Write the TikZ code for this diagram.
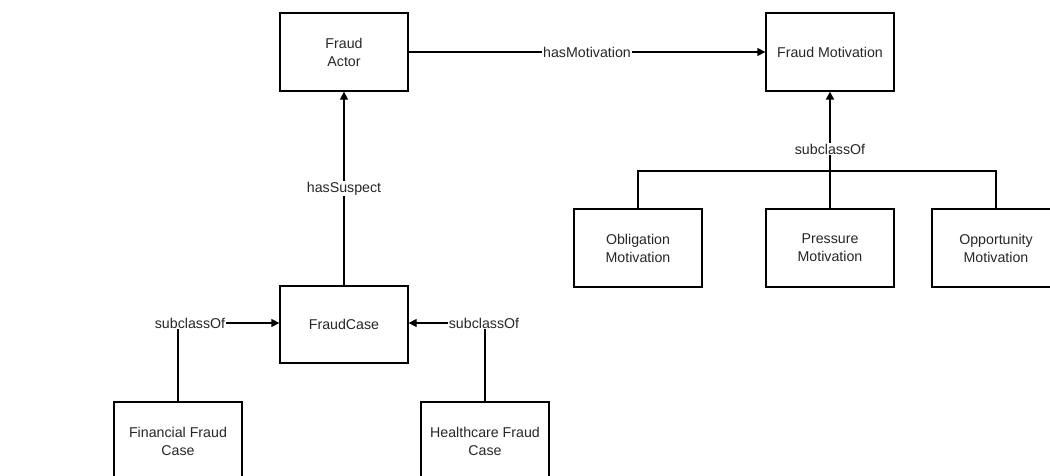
\documentclass[tikz,border=0pt]{standalone}
\usepackage{fontspec}
\setmainfont{Liberation Sans}
\usetikzlibrary{arrows.meta}
\begin{document}
\begin{tikzpicture}[x=1pt,y=-1pt,
  font=\fontsize{14.2}{18}\selectfont,
  box/.style={draw, line width=1.3pt, minimum width=128pt, minimum height=78pt, align=center, inner sep=0pt, text=black!85},
  conn/.style={line width=1.3pt},
  arr/.style={line width=1.3pt, -{Triangle[length=8pt,width=8pt]}},
  lbl/.style={fill=white, inner sep=1pt, text=black!85}
]
\useasboundingbox (0,0) rectangle (1050,475);
\clip (0,0) rectangle (1050,475);
\node[box] (actor) at (344,52) {Fraud\\Actor};
\node[box] (motiv) at (830,52) {Fraud Motivation};
\node[box, minimum height=77pt] (case) at (344,324.5) {FraudCase};
\node[box] (oblig) at (638,248) {Obligation\\Motivation};
\node[box] (press) at (830,248) {Pressure\\Motivation};
\node[box] (oppor) at (996,248) {Opportunity\\Motivation};
\node[box] (fin) at (178,441) {Financial Fraud\\Case};
\node[box] (health) at (485,441) {Healthcare Fraud\\Case};

\draw[arr] (actor.east) -- node[lbl, pos=0.5] {hasMotivation} (motiv.west);
\draw[arr] (case.north) -- node[lbl, pos=0.5] {hasSuspect} (actor.south);

\coordinate (bar) at (830,171);
\draw[conn] (oblig.north) |- (bar) -| (oppor.north);
\draw[conn] (press.north) -- (bar);
\draw[line width=2pt, -{Triangle[length=8pt,width=8pt]}] (bar) -- node[lbl, pos=0.275] {subclassOf} (motiv.south);

\coordinate (lc) at (178,323);
\coordinate (rc) at (485,323);
\draw[conn] (fin.north) -- (lc);
\draw[arr] (lc) -- (lc -| case.west);
\node[lbl] (l1) at (190,323) {subclassOf};
\draw[conn] (health.north) -- (rc);
\draw[arr] (rc) -- (rc -| case.east);
\node[lbl] (l2) at (484,323) {subclassOf};
\end{tikzpicture}
\end{document}
